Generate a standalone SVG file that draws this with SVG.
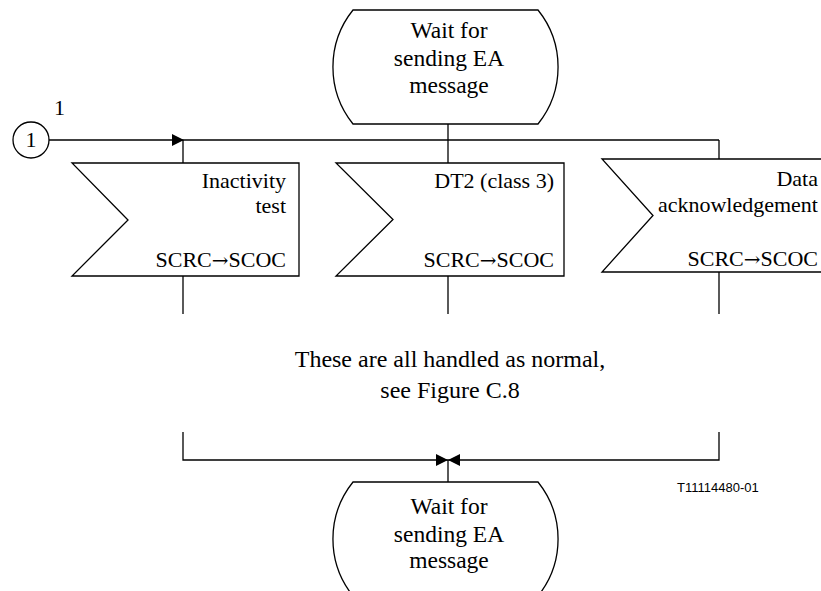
<svg xmlns="http://www.w3.org/2000/svg" width="821" height="591" viewBox="0 0 821 591">
<defs>
<style>
.s{fill:none;stroke:#000;stroke-width:1.3}
.f{fill:#fff;stroke:#000;stroke-width:1.3}
.t{font-family:"Liberation Serif","Times New Roman",serif;font-size:22px;fill:#000}
.w{font-size:23.5px}
.n{font-size:24px}
.m{text-anchor:middle}
.e{text-anchor:end}
.h{stroke:#fff;stroke-width:5;paint-order:stroke}
.ar{font-family:"DejaVu Serif",serif;font-size:20px}
</style>
<marker id="ah" viewBox="0 0 12 12" refX="12" refY="6" markerWidth="12" markerHeight="12" markerUnits="userSpaceOnUse" orient="auto">
<path d="M0,0 L12,6 L0,12 Z" fill="#000"/>
</marker>
</defs>
<rect width="821" height="591" fill="#fff"/>
<g id="connectors">
<line class="s" x1="49" y1="140" x2="184" y2="140" marker-end="url(#ah)"/>
<line class="s" x1="184" y1="140" x2="719" y2="140"/>
<line class="s" x1="448" y1="124" x2="448" y2="163"/>
<line class="s" x1="183" y1="140" x2="183" y2="163"/>
<line class="s" x1="719" y1="140" x2="719" y2="159"/>
<line class="s" x1="183" y1="276" x2="183" y2="314"/>
<line class="s" x1="448" y1="276" x2="448" y2="314"/>
<line class="s" x1="719" y1="272" x2="719" y2="314"/>
<polyline class="s" points="183,432 183,460 448,460" marker-end="url(#ah)"/>
<polyline class="s" points="719,432 719,460 448,460" marker-end="url(#ah)"/>
<line class="s" x1="448" y1="460" x2="448" y2="482"/>
</g>
<g id="start1">
<circle class="f" cx="31" cy="140" r="18"/>
<text class="t m" x="31" y="147">1</text>
<text class="t" x="54" y="115">1</text>
</g>
<g id="waitTop">
<path class="f" d="M353,10 L538,10 A91,91 0 0 1 538,124 L353,124 A91,91 0 0 1 353,10 Z"/>
<text class="t w m" x="449" y="38">Wait for</text>
<text class="t w m" x="449" y="66">sending EA</text>
<text class="t w m" x="449" y="93">message</text>
</g>
<g id="inactivity">
<polygon class="f" points="72,163 299,163 299,276 72,276 128,220"/>
<text class="t e" x="286" y="188">Inactivity</text>
<text class="t e" x="286" y="213">test</text>
<text class="t e" x="286" y="267">SCRC<tspan class="ar">→</tspan>SCOC</text>
</g>
<g id="dt2">
<polygon class="f" points="336,163 564,163 564,276 336,276 393,219.5"/>
<text class="t e" x="554" y="188">DT2 (class 3)</text>
<text class="t e" x="554" y="267">SCRC<tspan class="ar">→</tspan>SCOC</text>
</g>
<g id="dataAck">
<polyline class="s" points="830,159 602,159 653,215.5 602,272 830,272"/>
<text class="t e" x="818" y="186">Data</text>
<text class="t e h" x="818" y="212">acknowledgement</text>
<text class="t e" x="818" y="266">SCRC<tspan class="ar">→</tspan>SCOC</text>
</g>
<g id="note">
<text class="t n m" x="450" y="367">These are all handled as normal,</text>
<text class="t n m" x="450" y="398">see Figure C.8</text>
</g>
<g id="waitBottom">
<path class="f" d="M353,482 L538,482 A91,91 0 0 1 538,596 L353,596 A91,91 0 0 1 353,482 Z"/>
<text class="t w m" x="449" y="514">Wait for</text>
<text class="t w m" x="449" y="542">sending EA</text>
<text class="t w m" x="449" y="568">message</text>
</g>
<text x="677" y="492" font-family="Liberation Sans, Arial, sans-serif" font-size="13">T11114480-01</text>
</svg>
